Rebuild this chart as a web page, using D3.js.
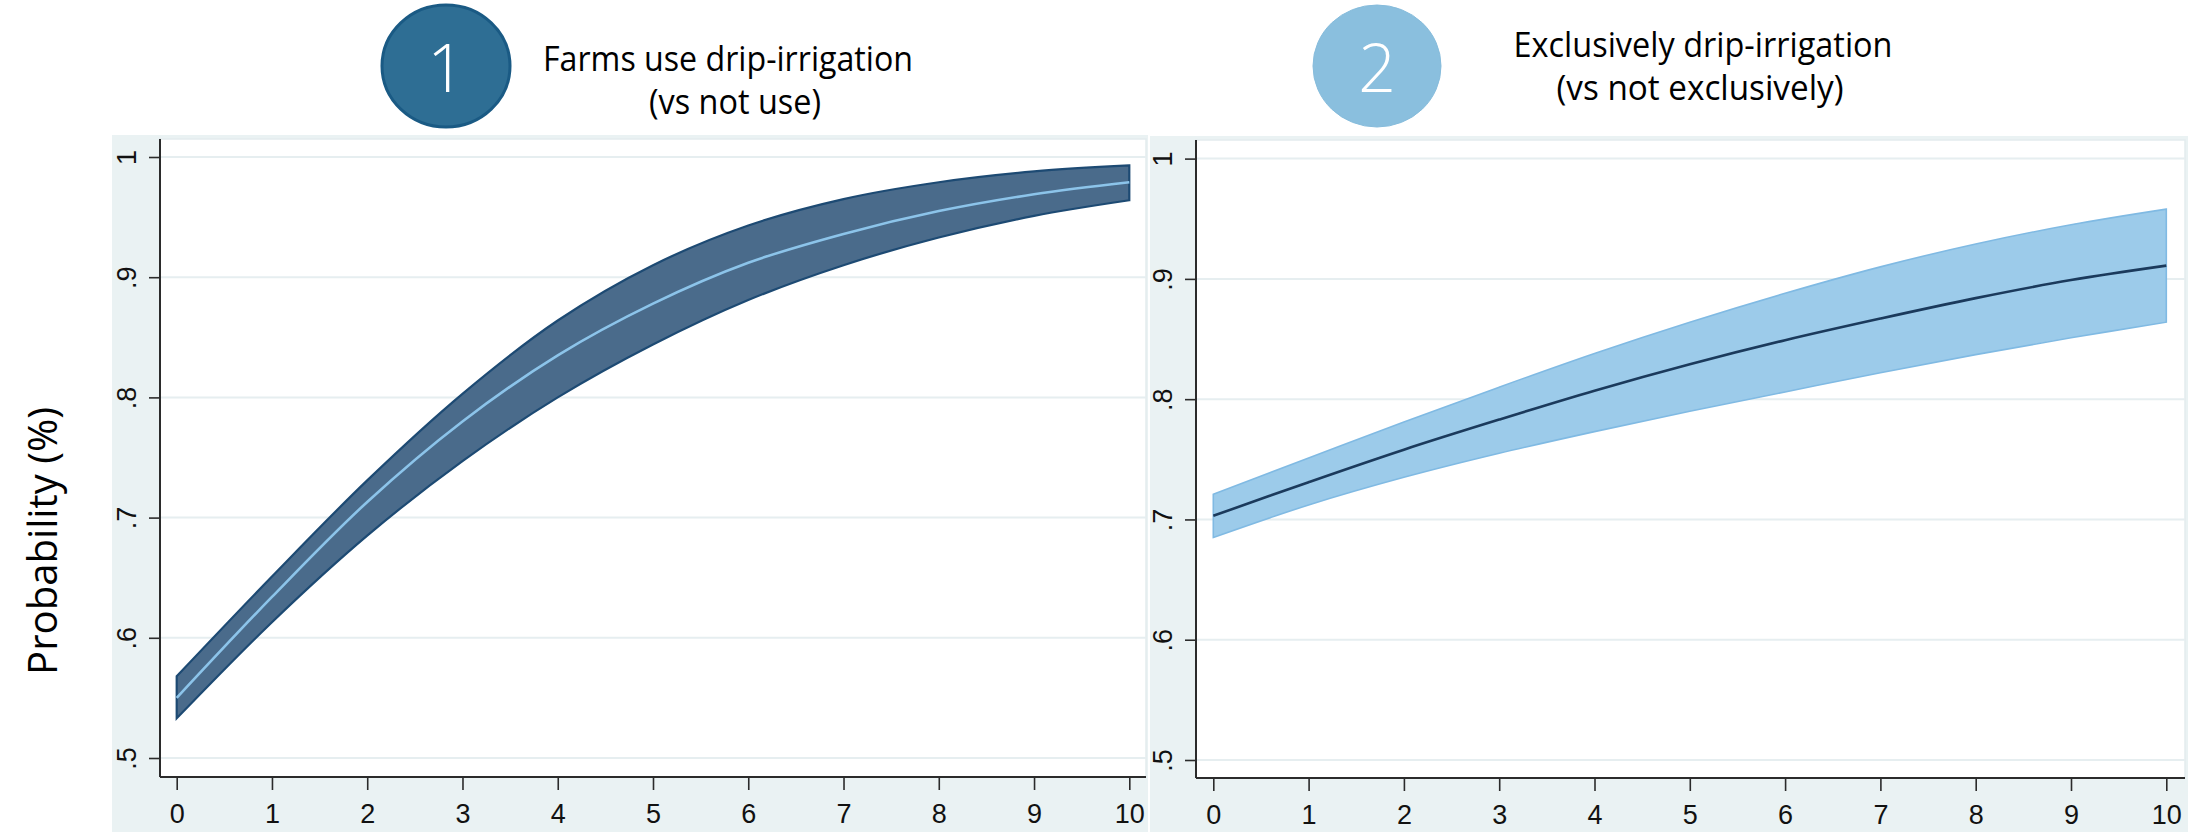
<!DOCTYPE html>
<html>
<head>
<meta charset="utf-8">
<script src="https://cdn.jsdelivr.net/npm/d3@7"></script>
<style>
  html, body { margin: 0; padding: 0; background: #ffffff; }
  svg { display: block; }
</style>
</head>
<body>
<svg id="chart" width="2197" height="832"></svg>
<script>
// ---------------- DATA ----------------
const xValues = [0, 1, 2, 3, 4, 5, 6, 7, 8, 9, 10];
const yTickValues = [0.5, 0.6, 0.7, 0.8, 0.9, 1.0];
const yTickLabels = [".5", ".6", ".7", ".8", ".9", "1"];
const xTickLabels = ["0", "1", "2", "3", "4", "5", "6", "7", "8", "9", "10"];

// Panel 1: Farms use drip-irrigation (vs not use)
const useMid   = [0.550, 0.634, 0.713, 0.780, 0.835, 0.878, 0.912, 0.936, 0.955, 0.969, 0.979];
const useUpper = [0.568, 0.651, 0.731, 0.803, 0.864, 0.910, 0.943, 0.965, 0.979, 0.988, 0.993];
const useLower = [0.533, 0.613, 0.685, 0.747, 0.800, 0.844, 0.881, 0.910, 0.933, 0.951, 0.964];

// Panel 2: Exclusively drip-irrigation (vs not exclusively)
const exclMid   = [0.703, 0.731, 0.758, 0.783, 0.807, 0.829, 0.849, 0.867, 0.884, 0.899, 0.911];
const exclUpper = [0.721, 0.751, 0.781, 0.810, 0.838, 0.864, 0.888, 0.910, 0.929, 0.945, 0.958];
const exclLower = [0.685, 0.712, 0.735, 0.755, 0.773, 0.790, 0.806, 0.822, 0.837, 0.851, 0.864];

const badgeLabels = ["1", "2"];
const titleLine1 = ["Farms use drip-irrigation", "Exclusively drip-irrigation"];
const titleLine2 = ["(vs not use)", "(vs not exclusively)"];
const yAxisTitle = "Probability (%)";

// ---------------- LAYOUT / STYLE ----------------
const panels = [
  {
    mid: useMid, upper: useUpper, lower: useLower,
    bg: [112, 135, 1148, 832],
    plot: [160, 139, 1146, 777],
    xRange: [176.7, 1129.3], yRange: [758, 157],
    fill: "#4a6b8b", edge: "#1d4a73", edgeW: 2.2, line: "#8cc4ea", lineW: 2.6,
    badge: { cx: 446, cy: 66, rx: 64, ry: 61, fill: "#2e6e94", stroke: "#1a5a84", sw: 3 },
    t1: { x: 728, y: 71, len: 370 }, t2: { x: 735, y: 114, len: 172 }
  },
  {
    mid: exclMid, upper: exclUpper, lower: exclLower,
    bg: [1150, 136, 2188, 832],
    plot: [1196, 140, 2185, 778],
    xRange: [1213.3, 2166.3], yRange: [760, 158.6],
    fill: "#9ccbea", edge: "#80bae3", edgeW: 1.6, line: "#1b3a5c", lineW: 2.6,
    badge: { cx: 1377, cy: 66, rx: 64, ry: 61, fill: "#8abfde", stroke: "#86bcdc", sw: 1 },
    t1: { x: 1703, y: 57, len: 379 }, t2: { x: 1700, y: 100, len: 287 }
  }
];

const svg = d3.select("#chart");
const tickFont = "'Liberation Sans', Arial, sans-serif";
const textFont = "'Open Sans', 'Noto Sans', sans-serif";

panels.forEach((p, pi) => {
  const g = svg.append("g");
  // outer graph region
  g.append("rect")
    .attr("x", p.bg[0]).attr("y", p.bg[1])
    .attr("width", p.bg[2] - p.bg[0]).attr("height", p.bg[3] - p.bg[1])
    .attr("fill", "#eaf2f3");
  // plot region
  g.append("rect")
    .attr("x", p.plot[0]).attr("y", p.plot[1])
    .attr("width", p.plot[2] - p.plot[0]).attr("height", p.plot[3] - p.plot[1])
    .attr("fill", "#ffffff").attr("stroke", "#e3ecee").attr("stroke-width", 1.5);

  const x = d3.scaleLinear().domain([0, 10]).range(p.xRange);
  const y = d3.scaleLinear().domain([0.5, 1.0]).range(p.yRange);

  // gridlines
  g.append("g").selectAll("line").data(yTickValues).join("line")
    .attr("x1", p.plot[0]).attr("x2", p.plot[2])
    .attr("y1", d => y(d)).attr("y2", d => y(d))
    .attr("stroke", "#e6eef0").attr("stroke-width", 2);

  // confidence band
  const idx = xValues.map((_, i) => i);
  const area = d3.area()
    .x(i => x(xValues[i]))
    .y0(i => y(p.lower[i]))
    .y1(i => y(p.upper[i]))
    .curve(d3.curveCatmullRom.alpha(0.5));
  g.append("path").datum(idx)
    .attr("d", area)
    .attr("fill", p.fill)
    .attr("stroke", p.edge).attr("stroke-width", p.edgeW)
    .attr("stroke-linejoin", "miter");

  // predicted line
  const line = d3.line()
    .x(i => x(xValues[i]))
    .y(i => y(p.mid[i]))
    .curve(d3.curveCatmullRom.alpha(0.5));
  g.append("path").datum(idx)
    .attr("d", line)
    .attr("fill", "none")
    .attr("stroke", p.line).attr("stroke-width", p.lineW);

  // y axis
  const yAxis = d3.axisLeft(y)
    .tickValues(yTickValues)
    .tickFormat((d, i) => yTickLabels[i])
    .tickSize(11).tickSizeOuter(0);
  const yg = g.append("g").attr("transform", `translate(${p.plot[0]},0)`).call(yAxis);
  yg.select(".domain").attr("d", `M0,${p.plot[1]}V${p.plot[3]}`)
    .attr("stroke", "#2b2b2b").attr("stroke-width", 2);
  yg.selectAll(".tick line").attr("stroke", "#2b2b2b").attr("stroke-width", 1.6);
  yg.selectAll(".tick text")
    .attr("x", 0).attr("dy", 0)
    .attr("text-anchor", "middle")
    .attr("transform", "translate(-24,0) rotate(-90)")
    .attr("font-family", tickFont).attr("font-size", 27).attr("fill", "#111");

  // x axis
  const xAxis = d3.axisBottom(x)
    .tickValues(xValues)
    .tickFormat((d, i) => xTickLabels[i])
    .tickSize(13).tickSizeOuter(0);
  const xg = g.append("g").attr("transform", `translate(0,${p.plot[3]})`).call(xAxis);
  xg.select(".domain").attr("d", `M${p.plot[0]},0H${p.plot[2]}`)
    .attr("stroke", "#2b2b2b").attr("stroke-width", 2);
  xg.selectAll(".tick line").attr("stroke", "#2b2b2b").attr("stroke-width", 1.6);
  xg.selectAll(".tick text")
    .attr("y", 46).attr("dy", 0)
    .attr("font-family", tickFont).attr("font-size", 27).attr("fill", "#111");

  // badge
  const b = p.badge;
  svg.append("ellipse")
    .attr("cx", b.cx).attr("cy", b.cy).attr("rx", b.rx).attr("ry", b.ry)
    .attr("fill", b.fill).attr("stroke", b.stroke).attr("stroke-width", b.sw);
  svg.append("text")
    .attr("x", b.cx).attr("y", 92)
    .attr("text-anchor", "middle")
    .attr("font-family", textFont).attr("font-weight", 300)
    .attr("font-size", 66).attr("fill", "#ffffff")
    .text(badgeLabels[pi]);

  // titles
  svg.append("text")
    .attr("x", p.t1.x).attr("y", p.t1.y)
    .attr("text-anchor", "middle")
    .attr("font-family", textFont).attr("font-size", 34).attr("fill", "#000")
    .attr("textLength", p.t1.len).attr("lengthAdjust", "spacingAndGlyphs")
    .text(titleLine1[pi]);
  svg.append("text")
    .attr("x", p.t2.x).attr("y", p.t2.y)
    .attr("text-anchor", "middle")
    .attr("font-family", textFont).attr("font-size", 34).attr("fill", "#000")
    .attr("textLength", p.t2.len).attr("lengthAdjust", "spacingAndGlyphs")
    .text(titleLine2[pi]);
});

// y axis title
svg.append("text")
  .attr("transform", "translate(57,541) rotate(-90)")
  .attr("text-anchor", "middle")
  .attr("font-family", textFont).attr("font-size", 40).attr("fill", "#000")
  .attr("textLength", 268).attr("lengthAdjust", "spacingAndGlyphs")
  .text(yAxisTitle);
</script>
</body>
</html>
